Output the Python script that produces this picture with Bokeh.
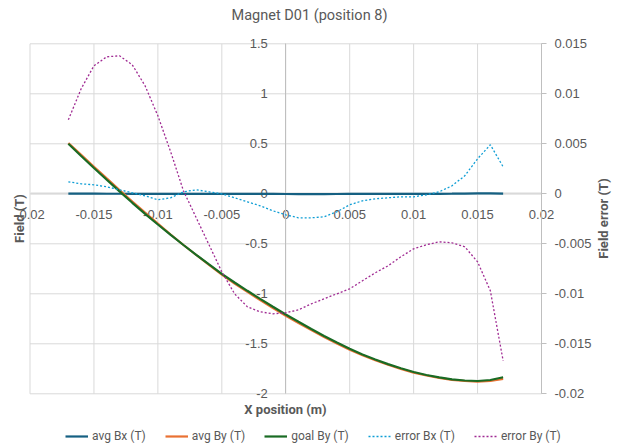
import math
from bokeh.plotting import figure
from bokeh.models import (Range1d, LinearAxis, FixedTicker, PrintfTickFormatter,
                          Legend, LegendItem, Label)
from bokeh.embed import file_html
from bokeh.resources import INLINE

x_pos = [-0.017, -0.016, -0.015, -0.014, -0.013, -0.012, -0.011, -0.010, -0.009,
         -0.008, -0.007, -0.006, -0.005, -0.004, -0.003, -0.002, -0.001, 0.0,
         0.001, 0.002, 0.003, 0.004, 0.005, 0.006, 0.007, 0.008, 0.009, 0.010,
         0.011, 0.012, 0.013, 0.014, 0.015, 0.016, 0.017]

avg_bx = [0.0012, 0.0010, 0.0009, 0.0007, 0.0004, 0.0001, -0.0002, -0.0006, -0.0004,
          0.0002, 0.0004, 0.0002, 0.0000, -0.0004, -0.0008, -0.0012, -0.0017, -0.0021,
          -0.0024, -0.0024, -0.0023, -0.0018, -0.0011, -0.0007, -0.0005, -0.0004, -0.0003,
          -0.0003, -0.0001, 0.0002, 0.0008, 0.0018, 0.0035, 0.0049, 0.0027]

avg_by = [0.507, 0.389, 0.271, 0.154, 0.038, -0.077, -0.189, -0.299, -0.407,
          -0.512, -0.612, -0.711, -0.808, -0.897, -0.981, -1.063, -1.142, -1.219,
          -1.292, -1.363, -1.433, -1.498, -1.560, -1.615, -1.665, -1.710, -1.751,
          -1.788, -1.817, -1.841, -1.860, -1.872, -1.879, -1.872, -1.851]

goal_by = [0.500, 0.378, 0.258, 0.140, 0.024, -0.090, -0.200, -0.307, -0.411,
           -0.512, -0.610, -0.706, -0.800, -0.887, -0.970, -1.051, -1.130, -1.207,
           -1.280, -1.352, -1.422, -1.488, -1.550, -1.606, -1.657, -1.703, -1.745,
           -1.782, -1.812, -1.836, -1.855, -1.867, -1.872, -1.862, -1.834]

error_bx = [0.0012, 0.0010, 0.0009, 0.0007, 0.0004, 0.0001, -0.0002, -0.0006, -0.0004,
            0.0002, 0.0004, 0.0002, 0.0000, -0.0004, -0.0008, -0.0012, -0.0017, -0.0021,
            -0.0024, -0.0024, -0.0023, -0.0018, -0.0011, -0.0007, -0.0005, -0.0004, -0.0003,
            -0.0003, -0.0001, 0.0002, 0.0008, 0.0018, 0.0035, 0.0049, 0.0027]

error_by = [0.0074, 0.0105, 0.0128, 0.0137, 0.0138, 0.0129, 0.0108, 0.0078, 0.0042,
            0.0003, -0.0024, -0.0051, -0.0078, -0.0100, -0.0113, -0.0118, -0.0120, -0.0119,
            -0.0116, -0.0110, -0.0105, -0.0100, -0.0095, -0.0087, -0.0079, -0.0072, -0.0063,
            -0.0055, -0.0051, -0.0048, -0.0049, -0.0053, -0.0068, -0.0097, -0.0167]

x_ticks = [-0.02, -0.015, -0.01, -0.005, 0.0, 0.005, 0.01, 0.015, 0.02]
y_ticks = [-2.0, -1.5, -1.0, -0.5, 0.0, 0.5, 1.0, 1.5]
err_ticks = [-0.02, -0.015, -0.01, -0.005, 0.0, 0.005, 0.01, 0.015]
x_lim = (-0.02, 0.02)
y_lim = (-2.0, 1.5)
err_lim = (-0.02, 0.015)

TITLE = "Magnet D01 (position 8)"
GRAY = "#595959"
GRID = "#D9D9D9"
AXIS = "#BFBFBF"
TICK_FONT = "Liberation Sans"
TEXT_FONT = "Roboto"

W, H = 618, 447
# plot-area placement inside the canvas (pixels)
PL, PR, PT, PB = 29.5, 541.0, 43.3, 393.3
xs = (x_lim[1] - x_lim[0]) / (PR - PL)
ys = (y_lim[1] - y_lim[0]) / (PB - PT)
x_rng = Range1d(x_lim[0] - PL * xs, x_lim[1] + (W - PR) * xs)
y_rng = Range1d(y_lim[0] - (H - PB) * ys, y_lim[1] + PT * ys)
k = (err_lim[1] - err_lim[0]) / (y_lim[1] - y_lim[0])

p = figure(width=W, height=H, output_backend="svg", toolbar_location=None,
           x_range=x_rng, y_range=y_rng, min_border=0,
           x_axis_location=None, y_axis_location=None)
p.outline_line_color = None
p.xgrid.visible = False
p.ygrid.visible = False
p.extra_y_ranges = {"err": Range1d(y_rng.start * k, y_rng.end * k)}

# grid lines limited to the plot area
p.segment(x0=x_ticks, x1=x_ticks, y0=[y_lim[0]] * len(x_ticks), y1=[y_lim[1]] * len(x_ticks),
          line_color=GRID, line_width=1, level="underlay")
p.segment(x0=[x_lim[0]] * len(y_ticks), x1=[x_lim[1]] * len(y_ticks), y0=y_ticks, y1=y_ticks,
          line_color=GRID, line_width=1, level="underlay")

# x axis at y = 0
xax = LinearAxis(ticker=FixedTicker(ticks=x_ticks),
                 formatter=PrintfTickFormatter(format="%g"),
                 fixed_location=0, bounds=x_lim)
xax.axis_line_color = GRID
xax.axis_line_width = 2
xax.major_tick_line_color = None
xax.minor_tick_line_color = None
xax.major_label_standoff = 10
xax.major_label_text_font = TICK_FONT
xax.major_label_text_font_size = "13px"
xax.major_label_text_color = GRAY
xax.level = "underlay"
p.add_layout(xax, "below")

# y axis at x = 0
yax = LinearAxis(ticker=FixedTicker(ticks=y_ticks),
                 formatter=PrintfTickFormatter(format="%g"),
                 fixed_location=0, bounds=y_lim)
yax.axis_line_color = AXIS
yax.major_tick_line_color = None
yax.minor_tick_line_color = None
yax.major_label_standoff = 12
yax.major_label_text_font = TICK_FONT
yax.major_label_text_font_size = "13px"
yax.major_label_text_color = GRAY
yax.level = "underlay"
p.add_layout(yax, "left")

# secondary axis on the right edge of the plot area
rax = LinearAxis(y_range_name="err", ticker=FixedTicker(ticks=err_ticks),
                 formatter=PrintfTickFormatter(format="%g"),
                 fixed_location=x_lim[1], bounds=err_lim)
rax.axis_line_color = AXIS
rax.major_tick_line_color = AXIS
rax.major_tick_in = 0
rax.major_tick_out = 5
rax.minor_tick_line_color = None
rax.major_label_standoff = 8
rax.major_label_text_font = TICK_FONT
rax.major_label_text_font_size = "13px"
rax.major_label_text_color = GRAY
rax.level = "underlay"
p.add_layout(rax, "right")

r1 = p.line(x_pos, avg_bx, color="#156082", line_width=2.2)
r2 = p.line(x_pos, avg_by, color="#E97132", line_width=2.2)
r3 = p.line(x_pos, goal_by, color="#196B24", line_width=2.2)
r4 = p.line(x_pos, error_bx, color="#0F9ED5", line_width=1.3, line_dash="2 2",
            y_range_name="err")
r5 = p.line(x_pos, error_by, color="#A02B93", line_width=1.3, line_dash="2 2",
            y_range_name="err")

legend = Legend(items=[LegendItem(label="avg Bx (T)", renderers=[r1]),
                       LegendItem(label="avg By (T)", renderers=[r2]),
                       LegendItem(label="goal By (T)", renderers=[r3]),
                       LegendItem(label="error Bx (T)", renderers=[r4]),
                       LegendItem(label="error By (T)", renderers=[r5])],
                orientation="horizontal", location=(65, 4),
                padding=0, margin=0, spacing=19, label_standoff=4,
                glyph_width=23, glyph_height=14, label_height=14,
                border_line_color=None, background_fill_alpha=0,
                label_text_font=TEXT_FONT, label_text_font_size="12px",
                label_text_color=GRAY)
p.add_layout(legend, "center")

p.add_layout(Label(x=309, y=H - 15, x_units="screen", y_units="screen", text=TITLE,
                   text_align="center", text_baseline="middle",
                   text_font=TEXT_FONT, text_font_size="14.5px", text_color=GRAY))
p.add_layout(Label(x=285, y=H - 409, x_units="screen", y_units="screen", text="X position (m)",
                   text_align="center", text_baseline="middle", text_font_style="bold",
                   text_font=TEXT_FONT, text_font_size="13px", text_color=GRAY))
p.add_layout(Label(x=19, y=H - 218, x_units="screen", y_units="screen", text="Field (T)",
                   angle=math.pi / 2, text_align="center", text_baseline="middle",
                   text_font_style="bold",
                   text_font=TEXT_FONT, text_font_size="13px", text_color=GRAY))
p.add_layout(Label(x=603, y=H - 218, x_units="screen", y_units="screen", text="Field error (T)",
                   angle=math.pi / 2, text_align="center", text_baseline="middle",
                   text_font_style="bold",
                   text_font=TEXT_FONT, text_font_size="13px", text_color=GRAY))

open("out.html", "w").write(file_html(p, INLINE))
